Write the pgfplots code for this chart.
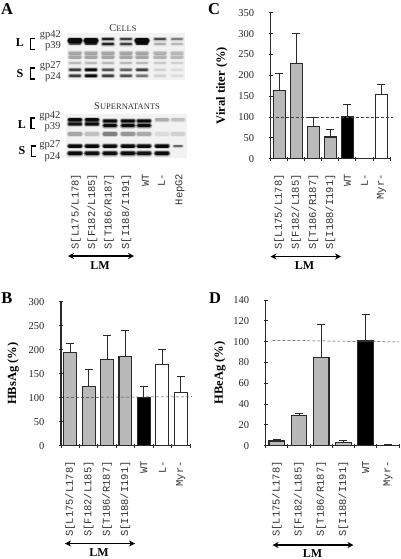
\documentclass[border=0pt]{standalone}
\usepackage{fontspec}
\setmainfont{Liberation Serif}
\newfontfamily\mono{Liberation Mono}
\usepackage{pgfplots}
\pgfplotsset{compat=1.18}
\usetikzlibrary{arrows.meta}
\definecolor{barg}{HTML}{B9B9B9}
\definecolor{edge}{HTML}{2A2A2A}
\newcommand{\band}[5]{% x, y, gray, thickness, halfwidth
  \pgfmathsetmacro{\xa}{#1-#5}\pgfmathsetmacro{\xb}{#1+#5}%
  \edef\temp{\noexpand\addplot[forget plot,draw=black,opacity=0.16*#3/100,line width=#4pt+3.2pt,line cap=round] coordinates {(\xa,#2)(\xb,#2)};
  \noexpand\addplot[forget plot,draw=black,opacity=0.3*#3/100,line width=#4pt+1.8pt,line cap=round] coordinates {(\xa,#2)(\xb,#2)};
  \noexpand\addplot[forget plot,draw=black,opacity=0.45*#3/100,line width=#4pt+0.8pt,line cap=round] coordinates {(\xa,#2)(\xb,#2)};
  \noexpand\addplot[forget plot,draw=black,opacity=0.85*#3/100,line width=#4pt,line cap=round] coordinates {(\xa,#2)(\xb,#2)};}\temp}
\newcommand{\rowT}[9]{% y thick g1..g7
  \band{75}{#1}{#3}{#2}{5}\band{91}{#1}{#4}{#2}{5}\band{108}{#1}{#5}{#2}{5}\band{126}{#1}{#6}{#2}{5}\band{142}{#1}{#7}{#2}{5}\band{160}{#1}{#8}{#2}{5}\band{177}{#1}{#9}{#2}{5}}
\newcommand{\rowB}[9]{%
  \band{75}{#1}{#3}{#2}{5.5}\band{92}{#1}{#4}{#2}{5.5}\band{110}{#1}{#5}{#2}{5.5}\band{128}{#1}{#6}{#2}{5.5}\band{144}{#1}{#7}{#2}{5.5}\band{162}{#1}{#8}{#2}{5.5}\band{178}{#1}{#9}{#2}{5.5}}
\newcommand{\tl}[1]{\fontsize{#1}{#1}\selectfont}
\newcommand{\lane}[2]{\node[rotate=90,anchor=east,inner sep=0pt,text=black!80,font=\mono\tl{10.5}] at (#1,173.5) {#2};}
\pgfplotsset{
  panel/.style={
    scale only axis, clip=false,
    axis lines*=left, axis line style={-,line width=1.1pt,draw=edge},
    /pgf/number format/assume math mode=true,
    ymin=0,
    tick align=center,
    major tick length=4pt, minor tick length=4pt,
    tick style={line width=0.9pt,draw=edge},
    major x tick style={draw=none},
    ytick pos=left, xtick pos=bottom,
    ticklabel style={font=\tl{10.5},text=black!85},
    xticklabel style={rotate=90,anchor=east,font=\mono\tl{10.5},text=black!80},
    xticklabel shift=10pt,
    yticklabel style={anchor=east},
    yticklabel shift=11pt,
    ylabel style={font=\bfseries\tl{12.5}},
  },
  bb/.style={ybar,bar width=0.7,bar shift=0pt,fill=#1,draw=edge,line width=1.1pt,
    error bars/.cd,y dir=plus,y explicit,
    error bar style={line width=1pt,draw=edge},
    error mark options={rotate=90,mark size=4pt,line width=1pt,draw=edge}},
  dl/.style={forget plot,densely dashed,line width=0.5pt,draw=black!75},
}
\begin{document}
\begin{tikzpicture}
\path[use as bounding box] (0,0) rectangle (400pt,-559pt);
% ---- overlay in pixel units: panel letters, panel A, arrows
\begin{axis}[at={(0pt,-559pt)},anchor=south west,scale only axis,width=400pt,height=559pt,
  xmin=0,xmax=400,ymin=0,ymax=559,y dir=reverse,hide axis,clip=false]
\addplot[forget plot,fill=black!5,draw=none] coordinates {(67,33)(185,33)(185,80)(67,80)} --cycle;
\addplot[forget plot,fill=black!5,draw=none] coordinates {(66,114)(187,114)(187,158)(66,158)} --cycle;
% cells blot
\rowT{53}{3}{20}{20}{20}{20}{20}{16}{14}
\rowT{57}{3}{20}{20}{20}{20}{20}{16}{14}
\rowT{63}{2}{14}{14}{14}{14}{14}{10}{8}
\rowT{39}{1.8}{0}{0}{80}{60}{0}{55}{32}
\rowT{44}{1.8}{0}{0}{80}{60}{0}{18}{14}
\rowT{40.5}{4.2}{100}{100}{0}{0}{100}{0}{0}
\rowT{43.5}{2}{50}{70}{0}{0}{80}{0}{0}
\rowT{69.7}{1.8}{60}{100}{50}{42}{60}{8}{5}
\rowT{75.7}{1.8}{60}{100}{60}{50}{35}{8}{5}
% supernatants blot
\rowB{119.8}{2.8}{100}{100}{0}{0}{0}{18}{12}
\rowB{124}{2.8}{90}{100}{0}{0}{0}{0}{0}
\rowB{121}{2.8}{0}{0}{100}{100}{100}{0}{0}
\rowB{125.5}{2.8}{0}{0}{100}{100}{100}{0}{0}
\rowB{134}{3.5}{20}{12}{32}{24}{18}{5}{8}
\rowB{146}{3}{100}{100}{95}{100}{95}{100}{0}
\rowB{153.3}{3.5}{100}{95}{95}{100}{90}{100}{0}
\band{178}{146}{40}{1.2}{4}
% panel letters
\node[font=\bfseries\tl{16.5}] at (7,9.5) {A};
\node[font=\bfseries\tl{16.5}] at (214,9.5) {C};
\node[font=\bfseries\tl{16.5}] at (7,298) {B};
\node[font=\bfseries\tl{16.5}] at (215,298) {D};
% panel A titles
\node[text=black!80,font=\tl{10.5}] at (123,28) {C{\tl{8.5}ELLS}};
\node[text=black!80,font=\tl{10.5}] at (127,106.5) {S{\tl{8.5}UPERNATANTS}};
\node[text=black!80,anchor=east,font=\tl{10.5}] at (64.5,35.5) {gp42};
\node[text=black!80,anchor=east,font=\tl{10.5}] at (64.5,46) {p39};
\node[text=black!80,anchor=east,font=\tl{10.5}] at (64.5,66.5) {gp27};
\node[text=black!80,anchor=east,font=\tl{10.5}] at (64.5,77.5) {p24};
\node[text=black!80,anchor=east,font=\tl{10.5}] at (64,116.5) {gp42};
\node[text=black!80,anchor=east,font=\tl{10.5}] at (64,127.5) {p39};
\node[text=black!80,anchor=east,font=\tl{10.5}] at (64,145) {gp27};
\node[text=black!80,anchor=east,font=\tl{10.5}] at (64,157) {p24};
\node[font=\bfseries\tl{12}] at (20,43) {L};
\node[font=\bfseries\tl{12}] at (20,73.5) {S};
\node[font=\bfseries\tl{12}] at (22,124.5) {L};
\node[font=\bfseries\tl{12}] at (22,151) {S};
\draw[line width=1.6pt] (34.5,38.5)--(30.5,38.5)--(30.5,49.5)--(34.5,49.5);
\draw[line width=1.6pt] (34.5,68)--(30.5,68)--(30.5,79)--(34.5,79);
\draw[line width=1.6pt] (35,118)--(31,118)--(31,128.5)--(35,128.5);
\draw[line width=1.6pt] (35.5,146)--(31.5,146)--(31.5,156.5)--(35.5,156.5);
% panel A lane labels
\lane{76}{S[L175/L178]}
\lane{92.5}{S[F182/L185]}
\lane{109}{S[T186/R187]}
\lane{126.5}{S[I188/I191]}
\lane{145.5}{WT}
\lane{161.5}{L-}
\lane{180}{HepG2}
% arrows and LM
\draw[{Stealth[length=6pt,width=6pt]}-{Stealth[length=6pt,width=6pt]},line width=1.1pt] (68,256)--(134,256);
\node[font=\bfseries\tl{12}] at (100,266) {LM};
\draw[{Stealth[length=6pt,width=6pt]}-{Stealth[length=6pt,width=6pt]},line width=1.1pt] (270.5,256.5)--(341,256.5);
\node[font=\bfseries\tl{12}] at (304.5,266) {LM};
\draw[{Stealth[length=6pt,width=6pt]}-{Stealth[length=6pt,width=6pt]},line width=1.1pt] (65,543.5)--(135,543.5);
\node[font=\bfseries\tl{12},inner sep=0pt] at (99,553) {LM};
\draw[{Stealth[length=6pt,width=6pt]}-{Stealth[length=6pt,width=6pt]},line width=1.1pt] (272.5,545)--(353.5,545);
\node[font=\bfseries\tl{12},inner sep=0pt] at (312.5,553.5) {LM};
\end{axis}
% ---- panel C
\begin{axis}[panel,at={(270.7pt,-158.7pt)},anchor=south west,width=119.3pt,height=146pt,
  xmin=-0.5,xmax=6.5,ymax=350,ytick={0,50,...,350},
  xtick={0,...,6},minor xtick={-0.5,0.5,...,6.5},
  xticklabels={S[L175/L178],S[F182/L185],S[T186/R187],S[I188/I191],WT,L-,Myr-},
  ylabel={Viral titer (\%)},ylabel shift=4pt]
\addplot[bb=barg] coordinates {(0,163) +- (0,42) (1,229) +- (0,71) (2,77) +- (0,22) (3,52) +- (0,17)};
\addplot[bb=black] coordinates {(4,101) +- (0,28)};
\addplot[bb=white] coordinates {(5,1) +- (0,0) (6,153) +- (0,24)};
\addplot[dl] coordinates {(-0.5,100) (6.7,100)};
\end{axis}
% ---- panel B
\begin{axis}[panel,at={(61pt,-445.7pt)},anchor=south west,width=129pt,height=144pt,
  xmin=-0.5,xmax=6.5,ymax=300,ytick={0,50,...,300},
  xtick={0,...,6},minor xtick={-0.5,0.5,...,6.5},
  xticklabels={S[L175/L178],S[F182/L185],S[T186/R187],S[I188/I191],WT,L-,Myr-},
  ylabel={HBsAg (\%)},ylabel shift=3pt]
\addplot[bb=barg] coordinates {(0,194) +- (0,19) (1,123) +- (0,35) (2,179) +- (0,50) (3,185) +- (0,55)};
\addplot[bb=black] coordinates {(4,101) +- (0,23)};
\addplot[bb=white] coordinates {(5,169) +- (0,32) (6,110) +- (0,34)};
\addplot[dl] coordinates {(-0.5,100.5) (6.6,102)};
\end{axis}
% ---- panel D
\begin{axis}[panel,at={(265.7pt,-445.7pt)},anchor=south west,width=133.3pt,height=145.7pt,
  xmin=-0.5,xmax=5.5,ymax=140,ytick={0,20,...,140},
  xtick={0,...,5},minor xtick={-0.5,0.5,...,5.5},
  xticklabels={S[L175/L178],S[F182/L185],S[T186/R187],S[I188/I191],WT,Myr-},
  ylabel={HBeAg (\%)},ylabel shift=1pt]
\addplot[bb=barg] coordinates {(0,4.5) +- (0,1.3) (1,29) +- (0,2) (2,85) +- (0,31) (3,3.5) +- (0,1.3)};
\addplot[bb=black] coordinates {(4,100.6) +- (0,25.4)};
\addplot[bb=white] coordinates {(5,0.5) +- (0,0.5)};
\addplot[dl] coordinates {(-0.2,101.3) (5.5,99.7)};
\end{axis}
\end{tikzpicture}
\end{document}
